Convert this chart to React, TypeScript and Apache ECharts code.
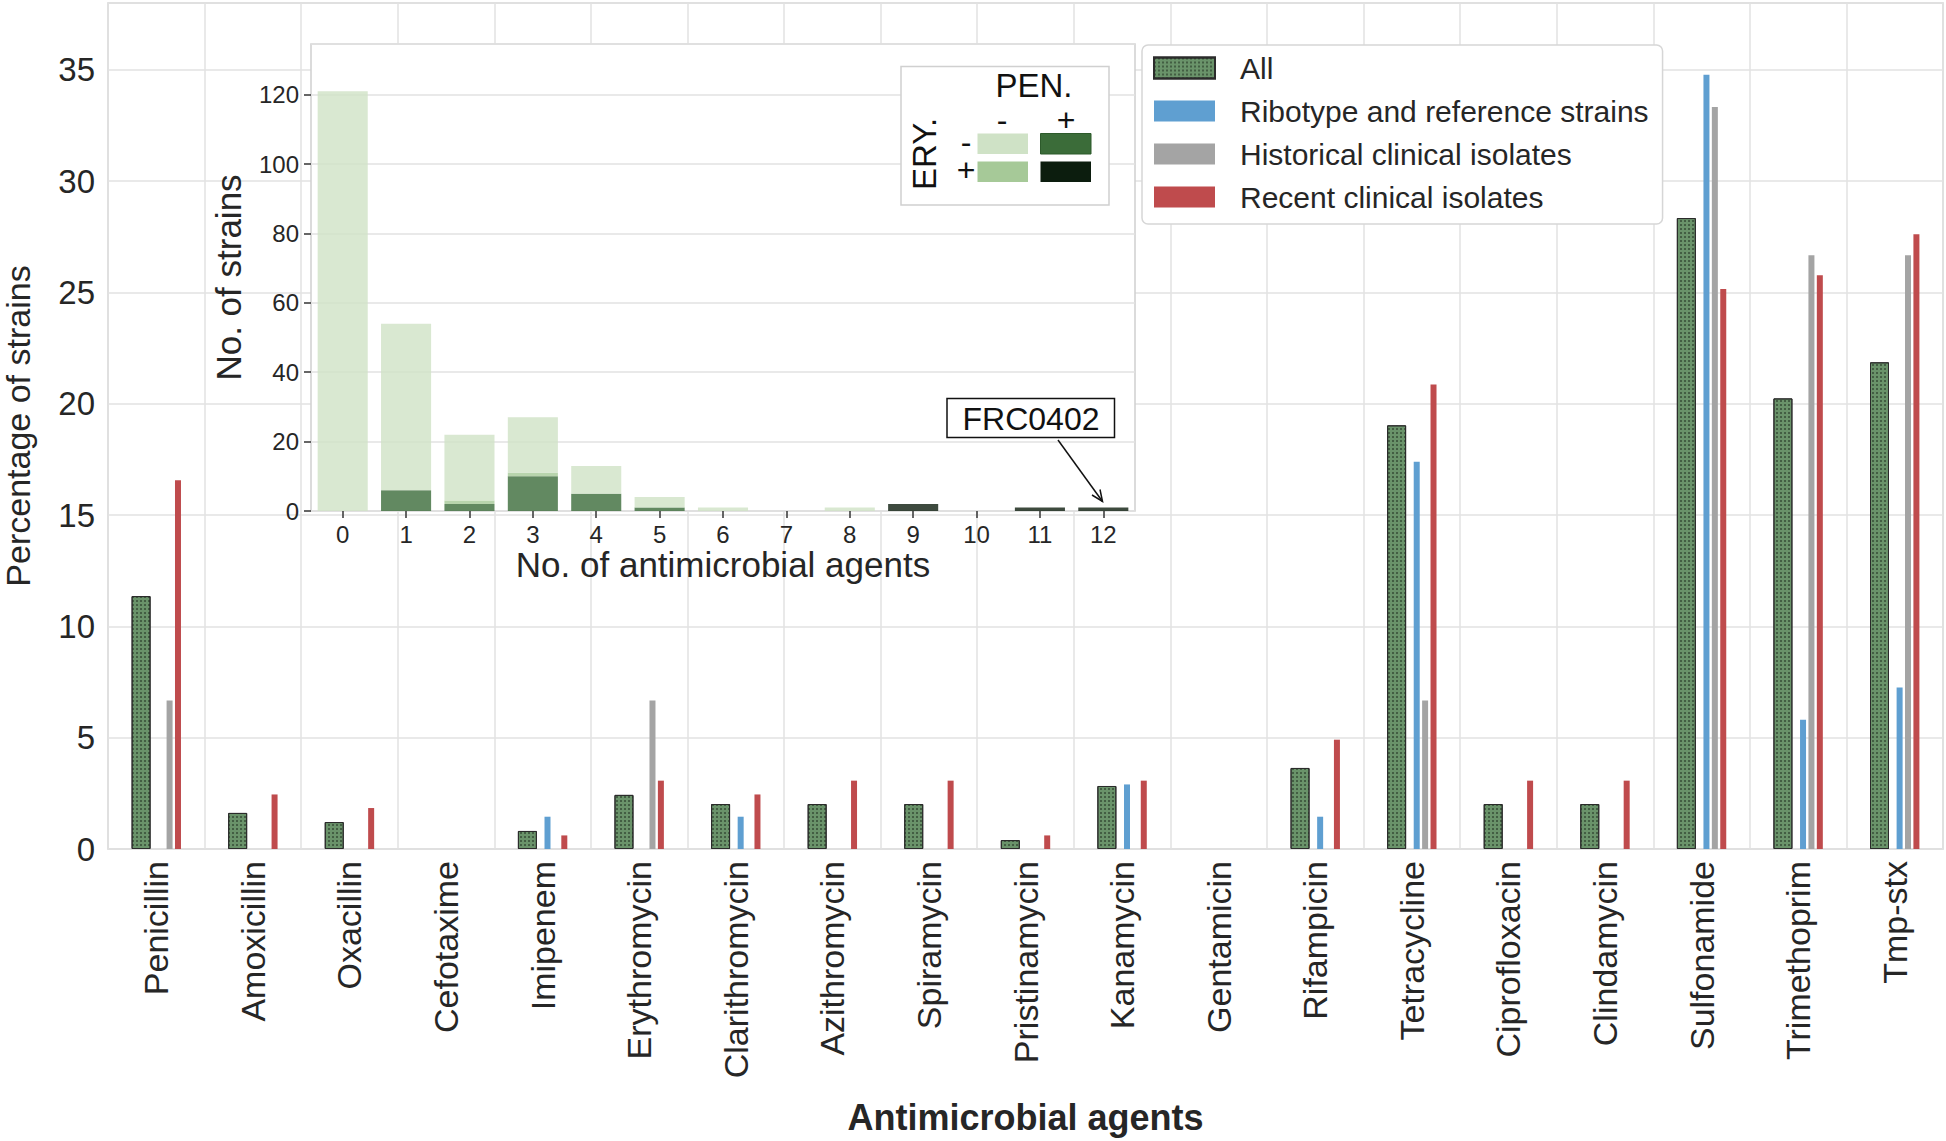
import React, { useEffect, useRef } from "react";
import * as echarts from "echarts";

const FONT = "'Liberation Sans', Arial, sans-serif";
const TXT = "#262626";

// Main chart data (percentage of strains)
const agents = [
  "Penicillin", "Amoxicillin", "Oxacillin", "Cefotaxime", "Imipenem", "Erythromycin",
  "Clarithromycin", "Azithromycin", "Spiramycin", "Pristinamycin", "Kanamycin", "Gentamicin",
  "Rifampicin", "Tetracycline", "Ciprofloxacin", "Clindamycin", "Sulfonamide", "Trimethoprim", "Tmp-stx",
];
const allPct = [11.36, 1.62, 1.21, 0, 0.81, 2.43, 2.02, 2.02, 2.02, 0.4, 2.83, 0, 3.64, 19.03, 2.02, 2.02, 28.34, 20.24, 21.86];
const ribotypePct = [0, 0, 0, 0, 1.45, 0, 1.45, 0, 0, 0, 2.9, 0, 1.45, 17.39, 0, 0, 34.78, 5.8, 7.25];
const historicalPct = [6.67, 0, 0, 0, 0, 6.67, 0, 0, 0, 0, 0, 0, 0, 6.67, 0, 0, 33.33, 26.67, 26.67];
const recentPct = [16.56, 2.45, 1.84, 0, 0.61, 3.07, 2.45, 3.07, 3.07, 0.61, 3.07, 0, 4.91, 20.86, 3.07, 3.07, 25.15, 25.77, 27.61];
const seriesNames = ["All", "Ribotype and reference strains", "Historical clinical isolates", "Recent clinical isolates"];

// Inset data (number of strains by number of antimicrobial agents)
const nAgents = ["0", "1", "2", "3", "4", "5", "6", "7", "8", "9", "10", "11", "12"];
const penPosEryNeg = [0, 6, 2, 10, 5, 1, 0, 0, 0, 0, 0, 0, 0];
const penPosEryPos = [0, 0, 0, 0, 0, 0, 0, 0, 0, 2, 0, 1, 1];
const penNegEryPos = [0, 0, 1, 1, 0, 0, 0, 0, 0, 0, 0, 0, 0];
const penNegEryNeg = [121, 48, 19, 16, 8, 3, 1, 0, 1, 0, 0, 0, 0];

const C_LIGHT = "#cfe2c6";
const C_MED = "#a6c998";
const C_DARK = "#3b6c39";
const C_BLACK = "#0c1d0e";

// zero-height bars are drawn without an outline
const noZeroOutline = (arr: number[]) =>
  arr.map((v) => (v === 0 ? { value: v, itemStyle: { borderWidth: 0, opacity: 0 } } : v));

export default function App() {
  const ref = useRef<HTMLDivElement>(null);

  useEffect(() => {
    const chart = echarts.init(ref.current!, null, { renderer: "svg" });
    const narrowBar = (name: string, data: number[], color: string) => ({
      name,
      type: "bar",
      data,
      barWidth: 6,
      barGap: "40%",
      itemStyle: { color },
      xAxisIndex: 0,
      yAxisIndex: 0,
    });
    const insetBar = (name: string, data: number[], color: string) => ({
      name,
      type: "bar",
      stack: "inset",
      data,
      barWidth: "79%",
      xAxisIndex: 1,
      yAxisIndex: 1,
      z: 7,
      itemStyle: { color, opacity: 0.8 },
    });
    const sym = (text: string, x: number, y: number, size: number, extra: any = {}) => ({
      type: "text", z: 21, x, y, ...extra,
      style: { text, fontSize: size, lineHeight: Math.round(size * 0.75), fontFamily: FONT, fill: "#111", align: "center", verticalAlign: "middle" },
    });

    const option: any = {
      animation: false,
      backgroundColor: "#fff",
      textStyle: { fontFamily: FONT },
      grid: [
        {
          left: 108, top: 3, width: 1835, height: 846,
          outerBoundsMode: "none", containLabel: false,
          show: true, borderColor: "#d0d0d0", borderWidth: 1.5, backgroundColor: "#fff",
        },
        {
          left: 311, top: 44, width: 824, height: 467, z: 5,
          outerBoundsMode: "none", containLabel: false,
          show: true, borderColor: "#cfcfcf", borderWidth: 1.5, backgroundColor: "#fff",
        },
      ],
      legend: {
        data: seriesNames,
        orient: "vertical",
        left: 1142,
        top: 45,
        icon: "rect",
        itemWidth: 61,
        itemHeight: 21,
        itemGap: 13,
        padding: [8, 14, 12, 11],
        backgroundColor: "#fff",
        borderColor: "#d6d6d6",
        borderWidth: 1.5,
        borderRadius: 6,
        textStyle: { fontSize: 30, color: TXT, fontFamily: FONT, lineHeight: 30, padding: [0, 0, 0, 20] },
      },
      xAxis: [
        {
          type: "category",
          gridIndex: 0,
          data: agents,
          axisLine: { show: false },
          axisTick: { show: false },
          splitLine: { show: true, lineStyle: { color: "#e2e2e2", width: 1.5 } },
          axisLabel: { rotate: 90, interval: 0, fontSize: 34, color: TXT, margin: 12, fontFamily: FONT },
          name: "Antimicrobial agents",
          nameLocation: "middle",
          nameGap: 250,
          nameTextStyle: { fontSize: 36, fontWeight: "bold", color: TXT, fontFamily: FONT },
        },
        {
          type: "category",
          gridIndex: 1,
          data: nAgents,
          z: 6,
          axisLine: { show: false },
          axisTick: { show: true, alignWithLabel: true, length: 7, lineStyle: { color: "#333", width: 1.5 } },
          splitLine: { show: false },
          axisLabel: { fontSize: 24, color: TXT, margin: 11, fontFamily: FONT },
          name: "No. of antimicrobial agents",
          nameLocation: "middle",
          nameGap: 34,
          nameTextStyle: { fontSize: 35, color: TXT, fontFamily: FONT },
        },
      ],
      yAxis: [
        {
          type: "value",
          gridIndex: 0,
          min: 0,
          max: 38,
          interval: 5,
          axisLine: { show: false },
          axisTick: { show: false },
          splitLine: { show: true, lineStyle: { color: "#e2e2e2", width: 1.5 } },
          axisLabel: { fontSize: 33, color: TXT, margin: 13, showMaxLabel: false, fontFamily: FONT },
          name: "Percentage of strains",
          nameLocation: "middle",
          nameGap: 74,
          nameRotate: 90,
          nameTextStyle: { fontSize: 34, lineHeight: 32, color: TXT, fontFamily: FONT },
        },
        {
          type: "value",
          gridIndex: 1,
          min: 0,
          max: 134.6,
          interval: 20,
          z: 6,
          axisLine: { show: false },
          axisTick: { show: true, length: 7, lineStyle: { color: "#333", width: 1.5 } },
          splitLine: { show: true, lineStyle: { color: "#e2e2e2", width: 1.5 } },
          axisLabel: { fontSize: 24, color: TXT, margin: 12, showMaxLabel: false, fontFamily: FONT },
          name: "No. of strains",
          nameLocation: "middle",
          nameGap: 65,
          nameRotate: 90,
          nameTextStyle: { fontSize: 35, color: TXT, fontFamily: FONT },
        },
      ],
      series: [
        {
          name: seriesNames[0],
          type: "bar",
          data: noZeroOutline(allPct),
          barWidth: 19,
          barGap: "40%",
          xAxisIndex: 0,
          yAxisIndex: 0,
          itemStyle: {
            color: "#6a936a",
            borderColor: "#2b2b2b",
            borderWidth: 1,
            decal: {
              symbol: "rect",
              symbolSize: 0.7,
              dashArrayX: [2, 2],
              dashArrayY: [2, 2],
              color: "rgba(10,20,10,0.8)",
              rotation: 0,
            },
          },
        },
        narrowBar(seriesNames[1], ribotypePct, "#5f9fd1"),
        narrowBar(seriesNames[2], historicalPct, "#a4a4a4"),
        narrowBar(seriesNames[3], recentPct, "#bf4b4d"),
        insetBar("PEN+ ERY-", penPosEryNeg, C_DARK),
        insetBar("PEN+ ERY+", penPosEryPos, C_BLACK),
        insetBar("PEN- ERY+", penNegEryPos, C_MED),
        insetBar("PEN- ERY-", penNegEryNeg, C_LIGHT),
      ],
      graphic: [
        // inset legend box
        { type: "rect", z: 20, shape: { x: 901, y: 66.5, width: 208, height: 138.5 }, style: { fill: "#fff", stroke: "#d0d0d0", lineWidth: 1.5 } },
        sym("PEN.", 1034, 85.5, 33),
        sym("-", 1002, 120, 32),
        sym("+", 1066, 119.5, 32),
        sym("ERY.", 924, 154, 33, { rotation: Math.PI / 2 }),
        sym("-", 966, 142, 32),
        sym("+", 966, 170, 32),
        { type: "rect", z: 21, shape: { x: 977.5, y: 133.5, width: 50.5, height: 20.5 }, style: { fill: C_LIGHT } },
        { type: "rect", z: 21, shape: { x: 1040.5, y: 133.5, width: 50.5, height: 20.5 }, style: { fill: C_DARK, stroke: "#2d5a2b", lineWidth: 1 } },
        { type: "rect", z: 21, shape: { x: 977.5, y: 161.5, width: 50.5, height: 20.5 }, style: { fill: C_MED } },
        { type: "rect", z: 21, shape: { x: 1040.5, y: 161.5, width: 50.5, height: 20.5 }, style: { fill: C_BLACK } },
        // FRC0402 annotation
        { type: "rect", z: 21, shape: { x: 947, y: 398.5, width: 167.5, height: 39 }, style: { fill: "#fff", stroke: "#111", lineWidth: 1.5 } },
        { type: "text", z: 22, x: 1031, y: 419, style: { text: "FRC0402", fontSize: 32, fontFamily: FONT, fill: "#111", align: "center", verticalAlign: "middle" } },
        { type: "line", z: 21, shape: { x1: 1058, y1: 440, x2: 1102.5, y2: 501.5 }, style: { stroke: "#111", lineWidth: 1.5 } },
        { type: "polyline", z: 21, shape: { points: [[1092, 495], [1102.5, 501.5], [1100, 489.5]] }, style: { stroke: "#111", lineWidth: 1.5, fill: null } },
      ],
    };

    chart.setOption(option);
    return () => chart.dispose();
  }, []);

  return (
    <div
      ref={ref}
      style={{ position: "fixed", left: 0, top: 0, width: 1946, height: 1141, background: "#fff" }}
    />
  );
}
